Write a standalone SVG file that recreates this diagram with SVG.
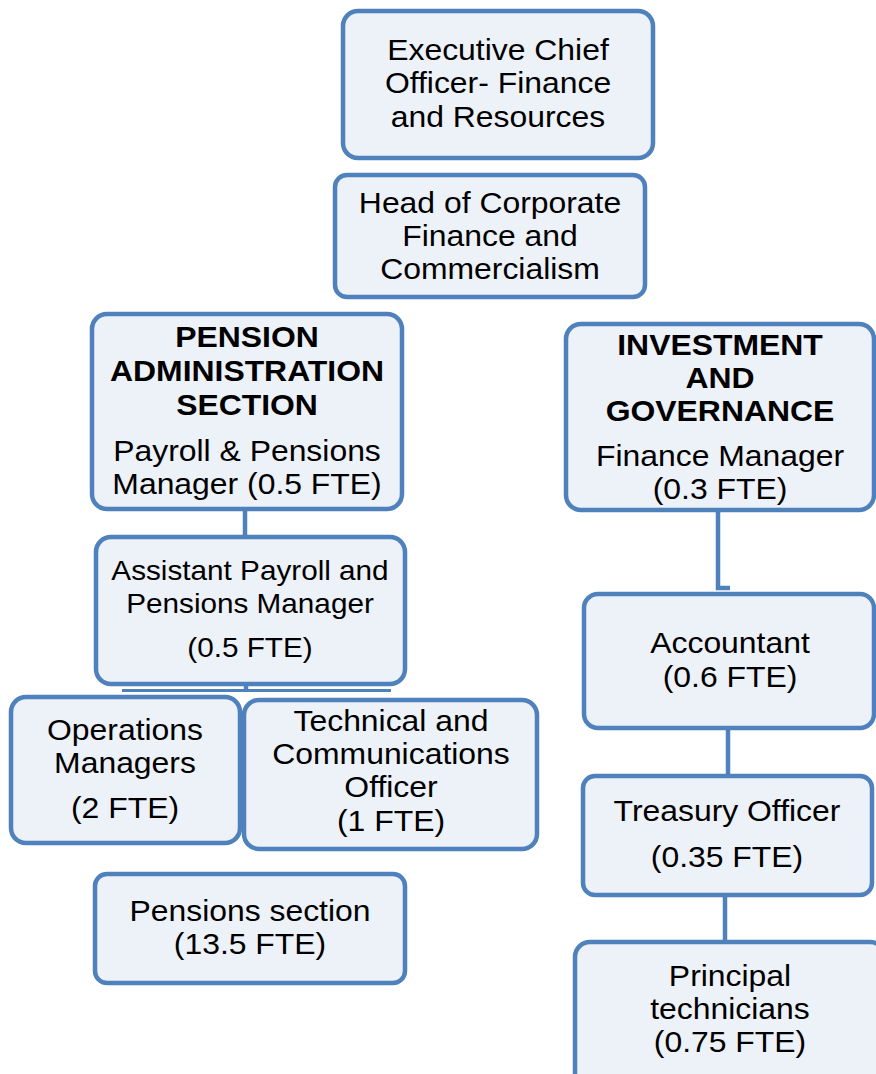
<svg xmlns="http://www.w3.org/2000/svg" width="876" height="1074" viewBox="0 0 876 1074">
<style>
.box{fill:#EDF1F8;stroke:#4F81BD;stroke-width:4.5}
.t{font-family:"Liberation Sans",Arial,sans-serif;font-size:29px;fill:#000;text-anchor:middle}
.b{font-weight:bold}
.s{font-size:27px}
.c{stroke:#4F81BD;stroke-width:4.5;fill:none}
</style>
<rect width="876" height="1074" fill="#fff"/>
<g id="connectors">
<line class="c" x1="245" y1="509" x2="245" y2="537"/>
<line class="c" x1="246" y1="684" x2="246" y2="692"/>
<line class="c" style="stroke-width:3" x1="122" y1="690.5" x2="391" y2="690.5"/>
<polyline class="c" points="718,510 718,588 730,588"/>
<line class="c" x1="728" y1="729" x2="728" y2="775"/>
<line class="c" x1="725" y1="895" x2="725" y2="942"/>
</g>
<g id="exec">
<rect class="box" x="343" y="11" width="310" height="147" rx="15"/>
<g transform="translate(498 0) scale(1.1 1)">
<text class="t" x="0" y="60">Executive Chief</text>
<text class="t" x="0" y="93">Officer- Finance</text>
<text class="t" x="0" y="127">and Resources</text>
</g>
</g>
<g id="head">
<rect class="box" x="335" y="175" width="310" height="122" rx="12"/>
<g transform="translate(490 0) scale(1.1 1)">
<text class="t" x="0" y="213">Head of Corporate</text>
<text class="t" x="0" y="246">Finance and</text>
<text class="t" x="0" y="279">Commercialism</text>
</g>
</g>
<g id="pension">
<rect class="box" x="92" y="314" width="310" height="195" rx="15"/>
<g transform="translate(247 0) scale(1.1 1)">
<text class="t b" x="0" y="347">PENSION</text>
<text class="t b" x="0" y="381">ADMINISTRATION</text>
<text class="t b" x="0" y="415">SECTION</text>
<text class="t" x="0" y="461">Payroll &amp; Pensions</text>
<text class="t" x="0" y="494">Manager (0.5 FTE)</text>
</g>
</g>
<g id="investment">
<rect class="box" x="566" y="324" width="308" height="186" rx="15"/>
<g transform="translate(720 0) scale(1.1 1)">
<text class="t b" x="0" y="355">INVESTMENT</text>
<text class="t b" x="0" y="388">AND</text>
<text class="t b" x="0" y="421">GOVERNANCE</text>
<text class="t" x="0" y="466">Finance Manager</text>
<text class="t" x="0" y="499">(0.3 FTE)</text>
</g>
</g>
<g id="asst">
<rect class="box" x="96" y="537" width="309" height="147" rx="15"/>
<g transform="translate(250 0) scale(1.1 1)">
<text class="t s" x="0" y="580">Assistant Payroll and</text>
<text class="t s" x="0" y="613">Pensions Manager</text>
<text class="t s" x="0" y="657">(0.5 FTE)</text>
</g>
</g>
<g id="ops">
<rect class="box" x="11" y="697" width="229" height="146" rx="15"/>
<g transform="translate(125 0) scale(1.1 1)">
<text class="t" x="0" y="740">Operations</text>
<text class="t" x="0" y="773">Managers</text>
<text class="t" x="0" y="818">(2 FTE)</text>
</g>
</g>
<g id="tech">
<rect class="box" x="244" y="700" width="293" height="149" rx="15"/>
<g transform="translate(391 0) scale(1.1 1)">
<text class="t" x="0" y="731">Technical and</text>
<text class="t" x="0" y="764">Communications</text>
<text class="t" x="0" y="797">Officer</text>
<text class="t" x="0" y="831">(1 FTE)</text>
</g>
</g>
<g id="pensions-section">
<rect class="box" x="95" y="874" width="310" height="109" rx="12"/>
<g transform="translate(250 0) scale(1.1 1)">
<text class="t" x="0" y="921">Pensions section</text>
<text class="t" x="0" y="954">(13.5 FTE)</text>
</g>
</g>
<g id="accountant">
<rect class="box" x="584" y="594" width="290" height="134" rx="14"/>
<g transform="translate(730 0) scale(1.1 1)">
<text class="t" x="0" y="653">Accountant</text>
<text class="t" x="0" y="687">(0.6 FTE)</text>
</g>
</g>
<g id="treasury">
<rect class="box" x="583" y="776" width="289" height="119" rx="12"/>
<g transform="translate(727 0) scale(1.1 1)">
<text class="t" x="0" y="821">Treasury Officer</text>
<text class="t" x="0" y="867">(0.35 FTE)</text>
</g>
</g>
<g id="principal">
<rect class="box" x="575" y="942" width="310" height="150" rx="15"/>
<g transform="translate(730 0) scale(1.1 1)">
<text class="t" x="0" y="986">Principal</text>
<text class="t" x="0" y="1019">technicians</text>
<text class="t" x="0" y="1052">(0.75 FTE)</text>
</g>
</g>
</svg>
